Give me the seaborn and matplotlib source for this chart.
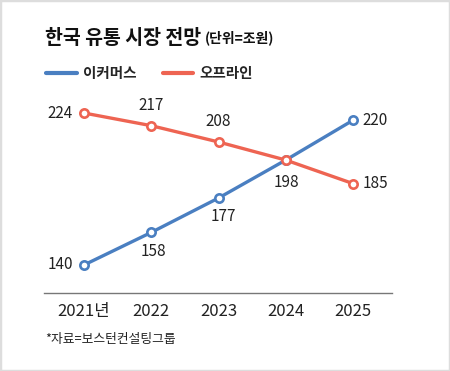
import matplotlib
matplotlib.use("Agg")
import matplotlib.pyplot as plt
import seaborn as sns
import pandas as pd
from matplotlib.lines import Line2D
from matplotlib.patches import Rectangle

# === Data ===
years = [2021, 2022, 2023, 2024, 2025]
year_labels = ["2021년", "2022", "2023", "2024", "2025"]
ecommerce = [140, 158, 177, 198, 220]
offline = [224, 217, 208, 198, 185]
series_names = ["이커머스", "오프라인"]

title = "한국 유통 시장 전망"
unit = "(단위=조원)"
source = "*자료=보스턴컨설팅그룹"

BLUE = "#4a7fc1"
RED = "#ee6452"

sns.set_style("white")
plt.rcParams["font.family"] = ["Noto Sans CJK KR", "DejaVu Sans"]

fig = plt.figure(figsize=(4.5, 3.71), dpi=100)
ax = fig.add_axes([44 / 450, 1 - 293 / 371, 348 / 450, 193 / 371])

line_kw = dict(marker="o", markersize=6, markerfacecolor="white",
               markeredgewidth=1.9, linewidth=2.4, ax=ax)
sns.lineplot(x=years, y=ecommerce, color=BLUE, markeredgecolor=BLUE, **line_kw)
sns.lineplot(x=years, y=offline, color=RED, markeredgecolor=RED, **line_kw)

# value labels: (placement, dx, dy) in points
place_e = [("left", -8, 0), ("below", 1.5, -14), ("below", 3.5, -13), None, ("right", 7, 0)]
place_o = [("left", -8, 0), ("above", 0, 14.5), ("above", 0, 15), ("below", 0.5, -16.5), ("right", 7, 0)]

def label_points(vals, places):
    for x, v, p in zip(years, vals, places):
        if p is None:
            continue
        kind, dx, dy = p
        ha = {"left": "right", "right": "left"}.get(kind, "center")
        ax.annotate(str(v), (x, v), xytext=(dx, dy), textcoords="offset points",
                    ha=ha, va="center", fontsize=11, color="#222222")

label_points(ecommerce, place_e)
label_points(offline, place_o)

ax.set_xlim(2020.405, 2025.58)
ax.set_ylim(124.5, 231.2)
ax.set_xticks(years, year_labels)
ax.set_yticks([])
ax.tick_params(axis="x", direction="in", length=6, width=1, color="#999999",
               pad=7, labelsize=12, labelcolor="#222222")
for s in ["top", "right", "left"]:
    ax.spines[s].set_visible(False)
ax.spines["bottom"].set_color("#777777")
ax.spines["bottom"].set_linewidth(1)
ax.set_xlabel("")
ax.set_ylabel("")

# title + unit
t = fig.text(45 / 450, 1 - 38 / 371, title, fontsize=14, fontweight="bold",
             va="center", ha="left", color="#111111")
fig.canvas.draw()
ax.annotate(unit, xy=(1, 0), xycoords=t, xytext=(3, 1.5), textcoords="offset points",
            fontsize=10, fontweight="bold", va="bottom", ha="left", color="#111111")

# legend
handles = [Line2D([], [], color=BLUE, linewidth=3), Line2D([], [], color=RED, linewidth=3)]
fig.legend(handles, series_names, loc="center left",
           bbox_to_anchor=(46 / 450, 1 - 73 / 371), ncol=2, frameon=False,
           borderpad=0, borderaxespad=0, handlelength=2.1, handletextpad=0.42,
           columnspacing=1.8, prop={"weight": "bold", "size": 10.5})

fig.text(45 / 450, 1 - 340 / 371, source, fontsize=9.2, va="center", ha="left",
         color="#222222")

# light frame around the graphic
fig.patches.append(Rectangle((0, 0), 1, 1, transform=fig.transFigure, fill=False,
                             edgecolor="#dddddd", linewidth=2.5))

fig.savefig("out.png", dpi=100)
